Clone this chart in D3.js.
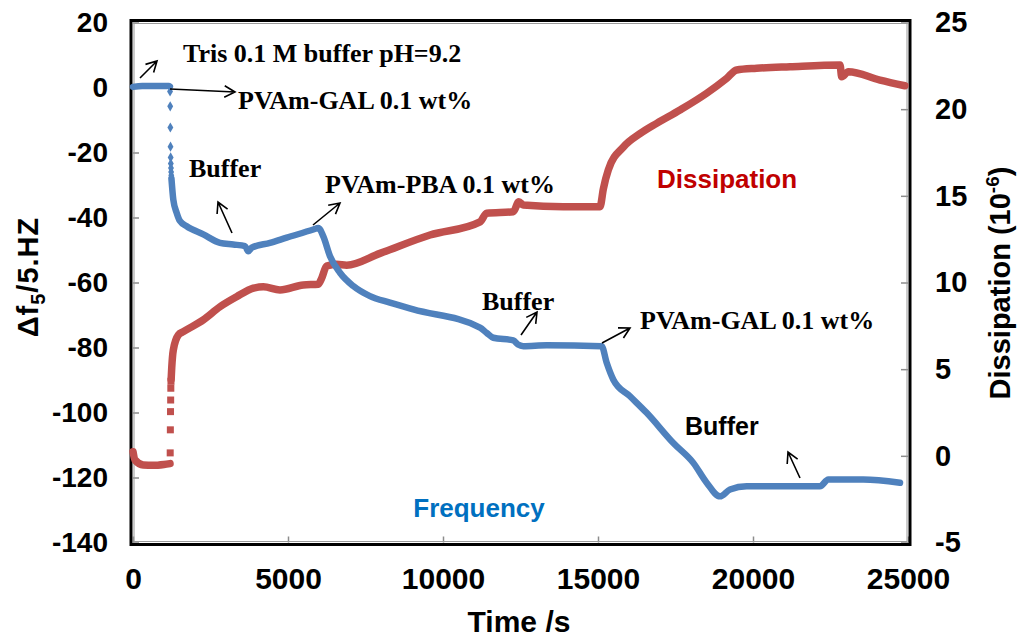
<!DOCTYPE html>
<html>
<head>
<meta charset="utf-8">
<script src="https://cdn.jsdelivr.net/npm/d3@7"></script>
<style>
  body { margin: 0; background: #fff; }
  svg { display: block; }
</style>
</head>
<body>
<svg id="chart" width="1021" height="641"></svg>
<script>
// QCM-D trace: frequency shift (left axis) and dissipation (right axis) vs time

// Frequency, flat baseline before the first injection
const freqBaseTime  = [0, 300, 600, 900, 1150, 1190];
const freqBaseValue = [0.2, 0.5, 0.5, 0.5, 0.5, 0.3];
// Frequency, sparse samples during the fast drop
const freqDropTime  = [1195, 1200, 1205, 1210, 1215, 1220, 1225, 1230, 1235];
const freqDropValue = [-1.2, -5.8, -12.3, -18.2, -21.5, -23.4, -24.8, -26, -27];
// Frequency, remainder of the run
const freqTime = [1240, 1300, 1410, 1516, 1732, 2268, 2806, 3235, 3613, 3720, 3830, 4419, 4958,
  5816, 5977, 6139, 6355, 6677, 7106, 7645, 8290, 9042, 11194, 11409, 11623, 12268, 12420, 12591,
  13344, 15118, 15280, 15495, 16032, 16570, 17430, 18075, 18505, 18935, 19258, 19796, 22161,
  22430, 23558, 24742];
const freqValue = [-28, -34.5, -38.6, -41.1, -42.7, -45.2, -47.8, -48.3, -48.8, -50.4, -49.3, -47.8,
  -46.2, -43.7, -43.2, -45.8, -51.9, -57, -61.1, -64.2, -66.2, -68.3, -73.9, -75.5, -77, -77.8,
  -79.1, -79.6, -79.3, -79.6, -84.7, -89.9, -95, -100.1, -109.4, -115.5, -121.6, -125.8, -123.7,
  -122.7, -122.7, -120.6, -120.6, -121.6];

// Dissipation, baseline
const dissBaseTime  = [0, 65, 332, 655, 1000, 1194];
const dissBaseValue = [0.24, -0.24, -0.53, -0.55, -0.5, -0.45];
// Dissipation, sparse samples during the fast rise
const dissJumpTime  = [1200, 1205, 1210, 1215, 1220, 1225];
const dissJumpValue = [0.17, 1.5, 2.55, 3.22, 3.9, 4.3];
// Dissipation, remainder of the run
const dissTime = [1230, 1250, 1300, 1463, 1623, 2268, 2806, 3344, 3881, 4204, 4742, 5494, 5977,
  6085, 6246, 6569, 6893, 7968, 9580, 11194, 11409, 12268, 12445, 12591, 13881, 15065, 15172,
  15333, 15828, 16366, 16893, 17645, 18506, 19151, 19474, 20119, 21194, 22807, 22861, 23075,
  24097, 24900];
const dissValue = [4.4, 5.1, 6.1, 6.97, 7.16, 7.84, 8.6, 9.18, 9.67, 9.76, 9.57, 9.86, 9.9, 10.24,
  10.95, 11.05, 11.0, 11.68, 12.74, 13.5, 14.0, 14.08, 14.66, 14.47, 14.37, 14.37, 15.4, 16.5,
  17.83, 18.6, 19.18, 19.95, 20.92, 21.78, 22.26, 22.36, 22.45, 22.55, 21.87, 22.16, 21.68, 21.35];

// Axis ticks
const timeTicks = [0, 5000, 10000, 15000, 20000, 25000];
const freqTicks = [-140, -120, -100, -80, -60, -40, -20, 0, 20];
const dissTicks = [-5, 0, 5, 10, 15, 20, 25];

// Annotations: text, anchor point, font family
const noteTexts = ["Tris 0.1 M buffer pH=9.2", "PVAm-GAL 0.1 wt%", "Buffer", "PVAm-PBA 0.1 wt%",
  "Buffer", "PVAm-GAL 0.1 wt%", "Buffer"];
const noteX = [183, 238, 189, 325, 482, 640, 685];
const noteY = [62, 109, 177, 193, 310, 329, 435];
const noteSerif = [true, true, true, true, true, true, false];
// Arrows: tail (x1,y1) -> head (x2,y2)
const arrowX1 = [140, 170, 232, 313, 521, 602, 800];
const arrowY1 = [78, 89, 233, 225, 335, 343, 478];
const arrowX2 = [157, 235, 218, 340, 537, 630, 788];
const arrowY2 = [61, 92, 202, 203, 312, 328, 452];

const BLUE = "#4F81BD", RED = "#C0504D";
const SANS = "'Liberation Sans', Arial, sans-serif";
const SERIF = "'Liberation Serif', 'Times New Roman', serif";

const svg = d3.select("#chart");
svg.append("rect").attr("width", 1021).attr("height", 641).attr("fill", "#fff");

const x  = d3.scaleLinear().domain([0, 25000]).range([133, 908]);
const yF = d3.scaleLinear().domain([-140, 20]).range([542.5, 22.5]);
const yD = d3.scaleLinear().domain([-5, 25]).range([542.5, 22.5]);

const zip = (ts, vs) => ts.map((t, i) => [t, vs[i]]);
const plain = d => String(d); // ASCII hyphen for negatives

// Axes (inward ticks, frame drawn separately)
function styleAxis(g, size) {
  g.select(".domain").remove();
  g.selectAll(".tick line").attr("stroke", "#8c8c8c").attr("stroke-width", 1.5);
  g.selectAll(".tick text").attr("fill", "#000").style("font-family", SANS)
    .style("font-weight", "bold").style("font-size", size + "px");
}
svg.append("g").attr("transform", "translate(133,0)")
  .call(d3.axisLeft(yF).tickValues(freqTicks).tickSize(-6).tickPadding(25).tickFormat(plain))
  .call(g => styleAxis(g, 28));
svg.append("g").attr("transform", "translate(908,0)")
  .call(d3.axisRight(yD).tickValues(dissTicks).tickSize(-7).tickPadding(27).tickFormat(plain))
  .call(g => styleAxis(g, 29));
svg.append("g").attr("transform", "translate(0,542.5)")
  .call(d3.axisBottom(x).tickValues(timeTicks).tickSize(-6).tickPadding(25).tickFormat(plain))
  .call(g => styleAxis(g, 30));

// Plot frame
svg.append("rect").attr("x", 131).attr("y", 20.5).attr("width", 779).attr("height", 524)
  .attr("fill", "none").attr("stroke", "#000").attr("stroke-width", 3);
svg.append("rect").attr("x", 134).attr("y", 23.5).attr("width", 773).attr("height", 518)
  .attr("fill", "none").attr("stroke", "#9a9a9a").attr("stroke-width", 1);

// Series
const lineF = d3.line().x(d => x(d[0])).y(d => yF(d[1])).curve(d3.curveMonotoneX);
const lineD = d3.line().x(d => x(d[0])).y(d => yD(d[1])).curve(d3.curveMonotoneX);

function drawTrace(data, line, color, width) {
  svg.append("path").datum(data).attr("d", line).attr("fill", "none")
    .attr("stroke", color).attr("stroke-width", width)
    .attr("stroke-linejoin", "round").attr("stroke-linecap", "round");
}
drawTrace(zip(dissBaseTime, dissBaseValue), lineD, RED, 7.5);
drawTrace(zip(dissTime, dissValue), lineD, RED, 7.5);
svg.append("g").selectAll("rect").data(zip(dissJumpTime, dissJumpValue)).join("rect")
  .attr("x", d => x(d[0]) - 3.5).attr("y", d => yD(d[1]) - 3.5)
  .attr("width", 7).attr("height", 7).attr("fill", RED);

drawTrace(zip(freqBaseTime, freqBaseValue), lineF, BLUE, 6.5);
drawTrace(zip(freqTime, freqValue), lineF, BLUE, 6.5);
svg.append("g").selectAll("path").data(zip(freqDropTime, freqDropValue)).join("path")
  .attr("d", d3.symbol().type(d3.symbolDiamond).size(30))
  .attr("transform", d => `translate(${x(d[0])},${yF(d[1])})`).attr("fill", BLUE);

// Series labels
svg.append("text").attr("x", 657).attr("y", 188).text("Dissipation")
  .style("font-family", SANS).style("font-weight", "bold").style("font-size", "26px").attr("fill", "#C00000");
svg.append("text").attr("x", 479).attr("y", 517).attr("text-anchor", "middle").text("Frequency")
  .style("font-family", SANS).style("font-weight", "bold").style("font-size", "26px").attr("fill", "#0070C0");

// Annotations
noteTexts.forEach((t, i) => {
  svg.append("text").attr("x", noteX[i]).attr("y", noteY[i]).text(t)
    .style("font-family", noteSerif[i] ? SERIF : SANS).style("font-weight", "bold")
    .style("font-size", noteSerif[i] ? "26px" : "25px").attr("fill", "#000");
});
arrowX1.forEach((x1, i) => {
  const y1 = arrowY1[i], x2 = arrowX2[i], y2 = arrowY2[i];
  const a = Math.atan2(y2 - y1, x2 - x1), L = 12, w = 0.5;
  const p1 = [x2 - L * Math.cos(a - w), y2 - L * Math.sin(a - w)];
  const p2 = [x2 - L * Math.cos(a + w), y2 - L * Math.sin(a + w)];
  svg.append("path")
    .attr("d", `M${x1},${y1}L${x2},${y2}M${p1[0]},${p1[1]}L${x2},${y2}L${p2[0]},${p2[1]}`)
    .attr("fill", "none").attr("stroke", "#000").attr("stroke-width", 1.6);
});

// Axis titles
svg.append("text").attr("x", 519).attr("y", 632).attr("text-anchor", "middle").text("Time /s")
  .style("font-family", SANS).style("font-weight", "bold").style("font-size", "30px");
const yl = svg.append("text").attr("transform", "translate(38,277) rotate(-90)").attr("text-anchor", "middle")
  .style("font-family", SANS).style("font-weight", "bold").style("font-size", "29px").style("letter-spacing", "1px");
yl.append("tspan").text("Δf");
yl.append("tspan").attr("dy", 7).style("font-size", "20px").text("5");
yl.append("tspan").attr("dy", -7).text("/5.HZ");
const yr = svg.append("text").attr("transform", "translate(1010,283) rotate(-90)").attr("text-anchor", "middle")
  .style("font-family", SANS).style("font-weight", "bold").style("font-size", "29px");
yr.append("tspan").text("Dissipation (10");
yr.append("tspan").attr("dy", -11).style("font-size", "19px").text("-6");
yr.append("tspan").attr("dy", 11).text(")");
</script>
</body>
</html>
